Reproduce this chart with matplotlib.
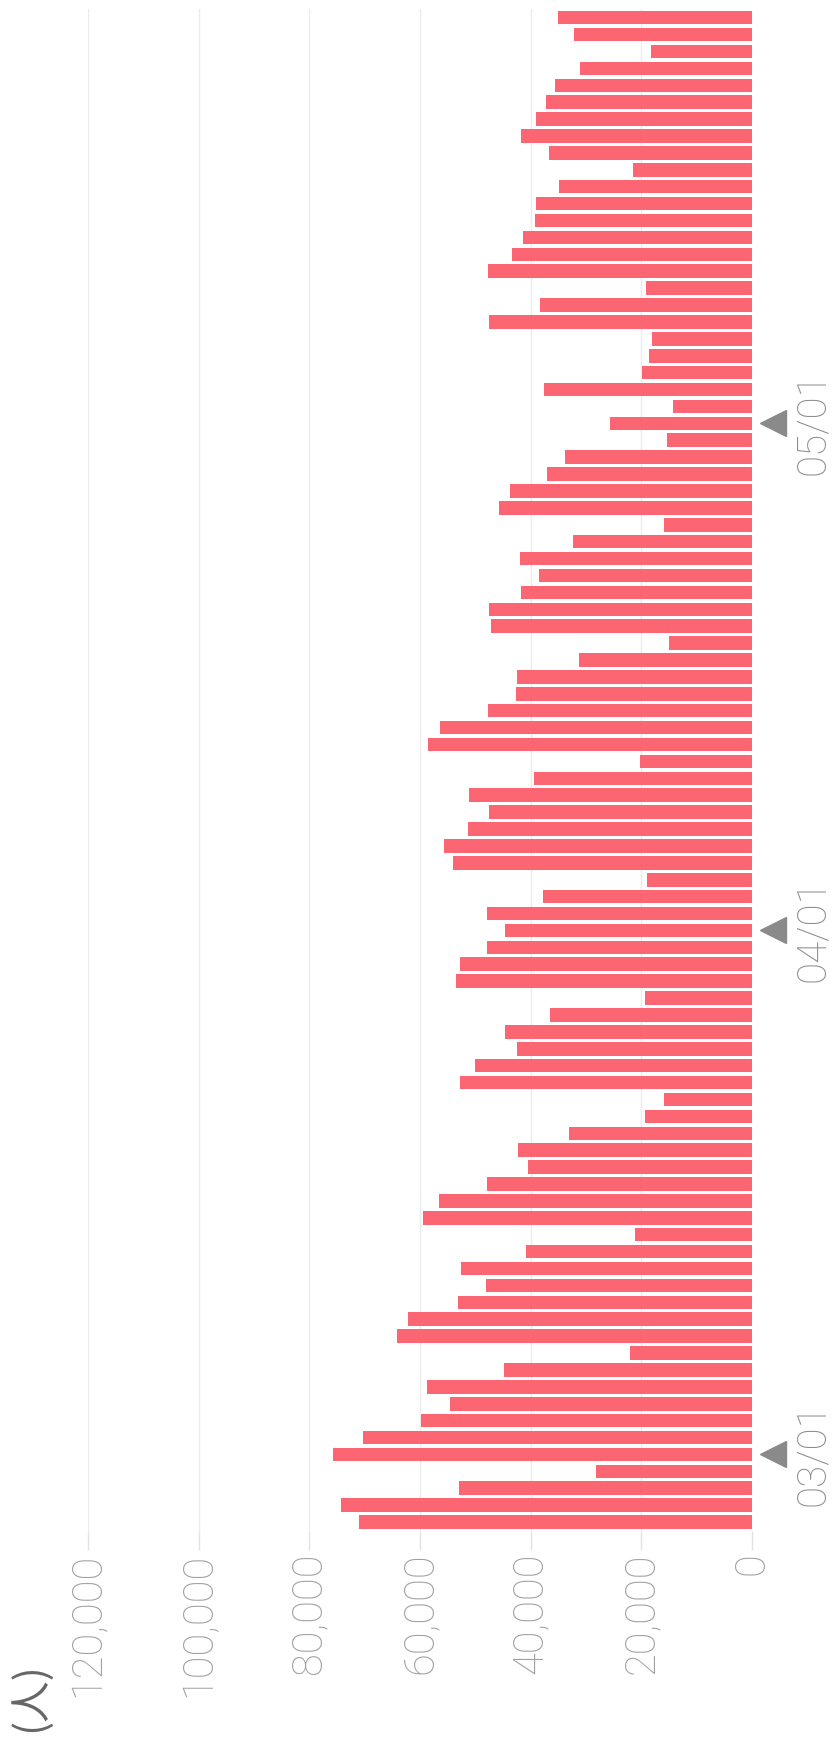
import numpy as np
import pandas as pd
import matplotlib
matplotlib.use('Agg')
import matplotlib.pyplot as plt
import matplotlib.transforms as mtransforms

plt.rcParams['font.family'] = ['Roboto', 'DejaVu Sans']

# 日付 (02/26 - 05/25)
dates = pd.date_range('2020-02-26', '2020-05-25')

# 人数 (古い日付から順に)
visitors = [
    71100, 74300, 53000, 28100, 75700, 70300, 59800, 54500, 58800, 44900,
    22100, 64100, 62200, 53100, 48100, 52600, 40900, 21200, 59500, 56500,
    47800, 40500, 42200, 33100, 19300, 15900, 52800, 50000, 42500, 44700,
    36500, 19300, 53400, 52700, 47800, 44700, 47800, 37800, 19000, 54100,
    55600, 51300, 47600, 51200, 39300, 20200, 58600, 56300, 47700, 42600,
    42400, 31300, 15000, 47200, 47600, 41800, 38500, 41900, 32400, 15900,
    45800, 43700, 37100, 33700, 15300, 25700, 14200, 37500, 19900, 18600,
    18000, 47600, 38300, 19100, 47700, 43400, 41300, 39200, 39000, 34800,
    21500, 36700, 41800, 39100, 37200, 35600, 31100, 18300, 32100, 35000,
]

value_ticks = [0, 20000, 40000, 60000, 80000, 100000, 120000]
unit_label = '(人)'

fig = plt.figure(figsize=(8.33, 17.41), dpi=100)
ax = fig.add_axes([0.1056, 0.1209, 0.7971, 0.8738])

pos = np.arange(len(dates))
ax.barh(pos, visitors, height=0.8, color='#fc6673', zorder=2)

# 値の軸は右から左へ (図全体が90度回転している)
ax.set_xlim(120000, 0)
ax.set_ylim(-0.5, len(dates) - 0.5)

ax.set_xticks(value_ticks)
ax.set_xticklabels([f'{v:,}' for v in value_ticks], rotation=90,
                   fontsize=30, color='#a0a0a0', fontweight='light')
ax.tick_params(axis='x', length=14, width=1, color='#e2e2e2', pad=2)
ax.grid(axis='x', color='#ececec', linewidth=1, zorder=0)
ax.set_axisbelow(True)

# 月初めの日付
month_idx = np.where(dates.day == 1)[0]
ax.yaxis.tick_right()
ax.set_yticks(month_idx)
ax.set_yticklabels(dates[month_idx].strftime('%m/%d'), rotation=90,
                   fontsize=29, color='#8c8c8c', fontweight='light')
ax.tick_params(axis='y', length=0, pad=44)
for lab in ax.get_yticklabels():
    lab.set_ha('center')
    lab.set_va('center')

# 日付の三角マーク
trans = mtransforms.blended_transform_factory(ax.transAxes, ax.transData)
ax.plot([1.0316] * len(month_idx), month_idx, marker='<', markersize=19,
        color='#8a8a8a', linestyle='none', transform=trans, clip_on=False)

for s in ax.spines.values():
    s.set_visible(False)

fig.text(0.036, 0.0253, unit_label, rotation=90, ha='center', va='center',
         fontsize=30, color='#666666',
         family=['Noto Sans CJK JP', 'DejaVu Sans'])

fig.savefig('out.png', dpi=100)
